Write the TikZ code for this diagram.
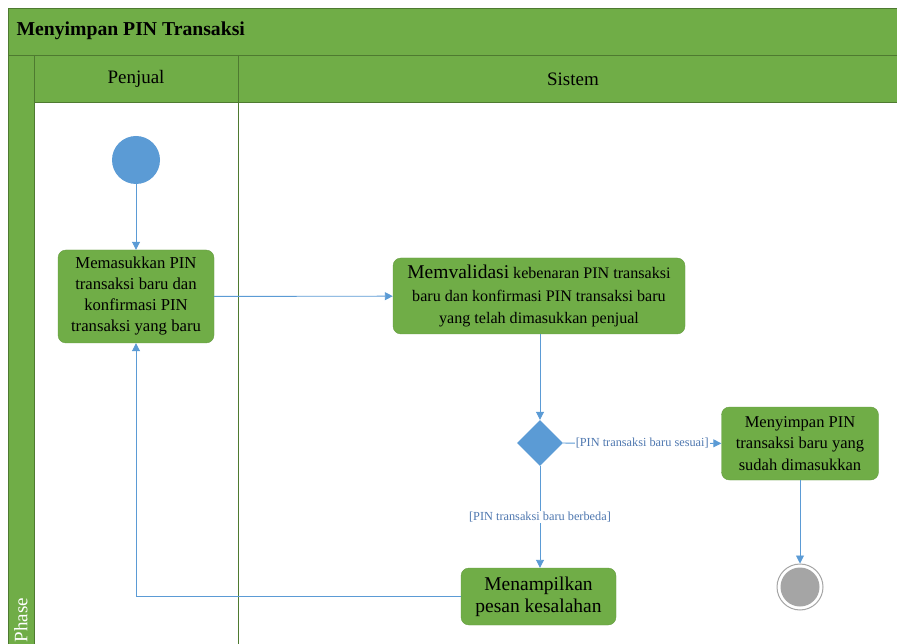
\documentclass[tikz,border=0pt]{standalone}
\usepackage{fontspec}
\setmainfont{Liberation Serif}
\usetikzlibrary{arrows.meta,shapes.geometric,positioning}
\definecolor{actgreen}{HTML}{70AD47}
\definecolor{lanegreen}{HTML}{4E7A30}
\definecolor{flowblue}{HTML}{5B9BD5}
\definecolor{guardblue}{HTML}{4F78B0}
\definecolor{endgray}{HTML}{A5A5A5}
\tikzset{
  action/.style={rectangle, rounded corners=8pt, fill=actgreen, draw=actgreen!90!black,
    align=center, inner sep=0pt, font=\fontsize{16.7}{21}\selectfont},
  flow/.style={draw=flowblue, line width=0.9pt, -{Triangle[width=8pt,length=8pt]}},
  guard/.style={fill=white, text=guardblue, inner sep=1pt, font=\fontsize{12.3}{14}\selectfont},
  lanetext/.style={font=\fontsize{19}{22}\selectfont}
}
\begin{document}
\begin{tikzpicture}[x=1pt,y=-1pt]
   \clip (0,0) rectangle (897,644);
   % swimlane frame
   \draw[lanegreen, fill=actgreen] (8,8) rectangle (930,670);
   \fill[white] (34,102) rectangle (930,670);
   \draw[lanegreen] (8,55) -- (930,55);
   \draw[lanegreen] (34,55) -- (34,670);
   \draw[lanegreen] (34,102) -- (930,102);
   \draw[lanegreen] (238,55) -- (238,670);
   \node[anchor=west, font=\bfseries\fontsize{19.7}{22}\selectfont] (title) at (13,31) {Menyimpan PIN Transaksi};
   \node[lanetext] (penjual) at (136,79) {Penjual};
   \node[lanetext] (sistem) at (573,79) {Sistem};
   \node[lanetext, text=white, rotate=90, anchor=west, inner sep=0pt] (phase) at (21,642.5) {Phase};
   % activities
   \node[circle, fill=flowblue, minimum size=48pt, inner sep=0pt] (start) at (136,160) {};
   \node[action, minimum width=156pt, minimum height=93pt] (enter) at (136,296.5)
      {Memasukkan PIN\\transaksi baru dan\\konfirmasi PIN\\transaksi yang baru};
   \node[action, minimum width=292pt, minimum height=76pt, font=\fontsize{16.1}{22.5}\selectfont] (validate) at (539,296)
      {{\fontsize{19.5}{22.5}\selectfont Memvalidasi} kebenaran PIN transaksi\\baru dan konfirmasi PIN transaksi baru\\yang telah dimasukkan penjual};
   \node[diamond, fill=flowblue, minimum width=46pt, minimum height=46pt, inner sep=0pt] (decide) at (540,443) {};
   \node[action, minimum width=157pt, minimum height=73pt, font=\fontsize{16.5}{21.5}\selectfont] (save) at (800,443.5)
      {Menyimpan PIN\\transaksi baru yang\\sudah dimasukkan};
   \node[action, minimum width=155pt, minimum height=57pt, font=\fontsize{19.5}{22}\selectfont] (error) at (538.5,596.5)
      {Menampilkan\\pesan kesalahan};
   \node[circle, draw=endgray, line width=1pt, fill=white, minimum size=46pt, inner sep=0pt] (final) at (800,587) {};
   \node[circle, fill=endgray, minimum size=39pt, inner sep=0pt] (finaldot) at (final) {};
   % flows
   \draw[flow] (start) -- (enter);
   \draw[flow] (enter) -- (validate);
   \draw[flow] (validate.south -| decide) -- (decide);
   \draw[flow] (decide) -- node[guard]{[PIN transaksi baru sesuai]} (save);
   \draw[flow] (decide) -- node[guard]{[PIN transaksi baru berbeda]} (decide |- error.north);
   \draw[flow] (save) -- (final);
   \draw[flow] (error) -| (enter);
\end{tikzpicture}
\end{document}
